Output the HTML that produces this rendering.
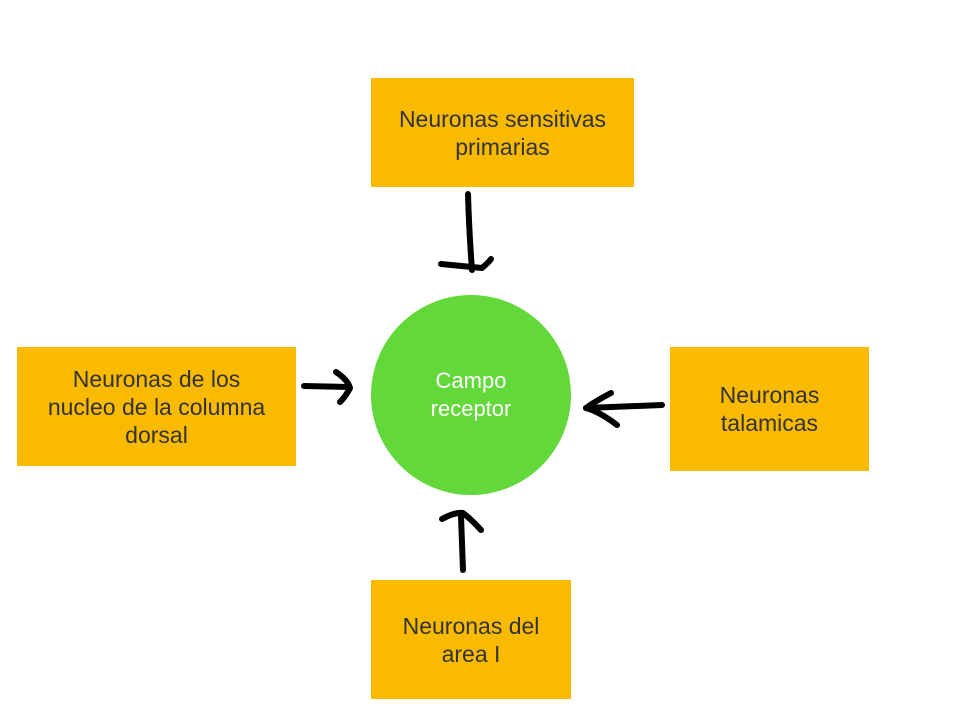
<!DOCTYPE html>
<html><head><meta charset="utf-8"><style>
body{margin:0;width:962px;height:716px;background:#fff;position:relative;overflow:hidden;font-family:"Liberation Sans",Arial,sans-serif}
.b{position:absolute;background:#f9ba00;color:#333;font-size:23px;line-height:28px;display:flex;align-items:center;justify-content:center;text-align:center}
.c{position:absolute;left:371px;top:295px;width:200px;height:200px;border-radius:50%;background:#62d83a;color:#fff;font-size:22px;line-height:28px;display:flex;align-items:center;justify-content:center;text-align:center}
</style></head><body>
<div class="b" style="left:371px;top:78px;width:263px;height:109px">Neuronas sensitivas<br>primarias</div>
<div class="b" style="left:17px;top:347px;width:279px;height:119px">Neuronas de los<br>nucleo de la columna<br>dorsal</div>
<div class="b" style="left:670px;top:347px;width:199px;height:124px">Neuronas<br>talamicas</div>
<div class="b" style="left:371px;top:580px;width:200px;height:119px">Neuronas del<br>area I</div>
<div class="c">Campo<br>receptor</div>
<svg width="962" height="716" style="position:absolute;left:0;top:0" fill="none" stroke="#000" stroke-width="6" stroke-linecap="round" stroke-linejoin="round">
<path d="M468 194 Q469 230 472 270"/><path d="M441 264 L482 268 Q489 262 491 259"/>
<path d="M304 386 L349 387"/><path d="M336 372 Q348 380 350 388 Q346 396 340 402"/>
<path d="M662 405 L586 408"/><path d="M611 393 Q594 402 586 408 Q600 412 617 425"/>
<path d="M463 570 L461 516"/><path d="M442 519 Q455 512 463 513 Q472 520 481 530"/>
</svg>
</body></html>
